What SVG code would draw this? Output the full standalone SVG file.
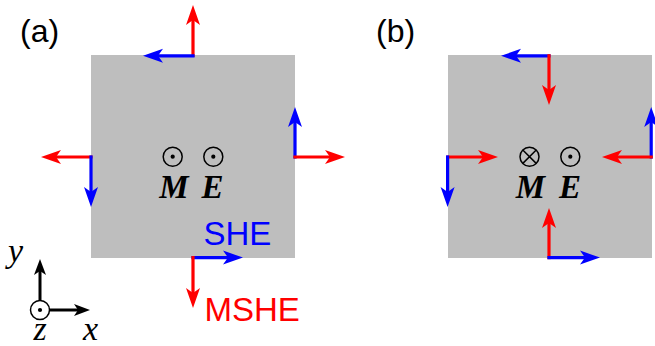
<svg xmlns="http://www.w3.org/2000/svg" width="655" height="346" viewBox="0 0 655 346">
<style>
.plate{fill:#bebebe}
.r{stroke:#ff0000;stroke-width:3.2;fill:none;marker-end:url(#hr)}
.b{stroke:#0000ff;stroke-width:3.2;fill:none;marker-end:url(#hb)}
.k{stroke:#000;stroke-width:3;fill:none;marker-end:url(#hk)}
.ring{fill:none;stroke:#000;stroke-width:1.5}
.sym{font-family:"Liberation Serif",serif;font-weight:bold;font-style:italic;font-size:33px;text-anchor:middle}
.ax{font-family:"Liberation Serif",serif;font-style:italic;font-size:34px}
.lab{font-family:"Liberation Sans",Arial,sans-serif;font-size:32px}
.big{font-family:"Liberation Sans",Arial,sans-serif;font-size:33px}
</style>
<defs>
<marker id="hr" markerUnits="userSpaceOnUse" markerWidth="20" markerHeight="14" refX="5" refY="7" orient="auto" overflow="visible"><path d="M0,0 L20,7 L0,14 L5,7 z" fill="#ff0000"/></marker>
<marker id="hb" markerUnits="userSpaceOnUse" markerWidth="20" markerHeight="14" refX="5" refY="7" orient="auto" overflow="visible"><path d="M0,0 L20,7 L0,14 L5,7 z" fill="#0000ff"/></marker>
<marker id="hk" markerUnits="userSpaceOnUse" markerWidth="16" markerHeight="12" refX="4" refY="6" orient="auto" overflow="visible"><path d="M0,0 L16,6 L0,12 L4,6 z" fill="#000"/></marker>
</defs>

<g id="panel-a">
<text class="lab" x="20" y="42">(a)</text>
<rect id="plate-a" class="plate" x="91" y="55" width="204" height="203"/>
<g id="M-a">
<circle class="ring" cx="172.7" cy="156.7" r="9.5"/><circle cx="172.7" cy="156.7" r="2.1"/>
<text class="sym" x="174" y="198">M</text>
</g>
<g id="E-a">
<circle class="ring" cx="213.3" cy="156.7" r="9.5"/><circle cx="213.3" cy="156.7" r="2.1"/>
<text class="sym" x="212.5" y="198">E</text>
</g>
<text class="big" x="203.5" y="245" fill="#0000ff">SHE</text>
<text class="big" x="204.5" y="321" fill="#ff0000">MSHE</text>
</g>

<g id="panel-b">
<text class="lab" x="376" y="42">(b)</text>
<rect id="plate-b" class="plate" x="448" y="55" width="204" height="203"/>
<g id="M-b">
<circle class="ring" cx="529.5" cy="156.7" r="9.5"/>
<path d="M522.8,150 L536.2,163.4 M536.2,150 L522.8,163.4" stroke="#000" stroke-width="1.5"/>
<text class="sym" x="530.5" y="198">M</text>
</g>
<g id="E-b">
<circle class="ring" cx="570.3" cy="156.7" r="9.5"/><circle cx="570.3" cy="156.7" r="2.1"/>
<text class="sym" x="570" y="198">E</text>
</g>
</g>

<g id="connectors">
<!-- panel a -->
<path class="r" d="M193,57 V20"/>
<path class="b" d="M194.6,55.8 H158"/>
<path class="b" d="M295,158.6 V122"/>
<path class="r" d="M293.4,157 H330"/>
<path class="r" d="M92.6,157 H56"/>
<path class="b" d="M91,155.4 V192"/>
<path class="b" d="M191.4,257.6 H228"/>
<path class="r" d="M193,256 V293"/>
<!-- panel b -->
<path class="b" d="M550.6,55.8 H516"/>
<path class="r" d="M549,54.2 V90"/>
<path class="b" d="M651.2,158.6 V122"/>
<path class="r" d="M652.8,157 H617"/>
<path class="r" d="M446.4,157 H483"/>
<path class="b" d="M447.6,155.4 V192"/>
<path class="r" d="M549,259.2 V223"/>
<path class="b" d="M547.4,257.6 H585"/>
</g>

<g id="axes">
<path class="k" d="M40,300.5 V271"/>
<path class="k" d="M49.5,310 H78"/>
<circle cx="40" cy="310" r="9.5" fill="#fff" stroke="#000" stroke-width="1.5"/>
<circle cx="40" cy="310" r="2.1"/>
<text class="ax" x="8" y="262">y</text>
<text class="ax" x="40" y="340" text-anchor="middle">z</text>
<text class="ax" x="83" y="340">x</text>
</g>
</svg>
